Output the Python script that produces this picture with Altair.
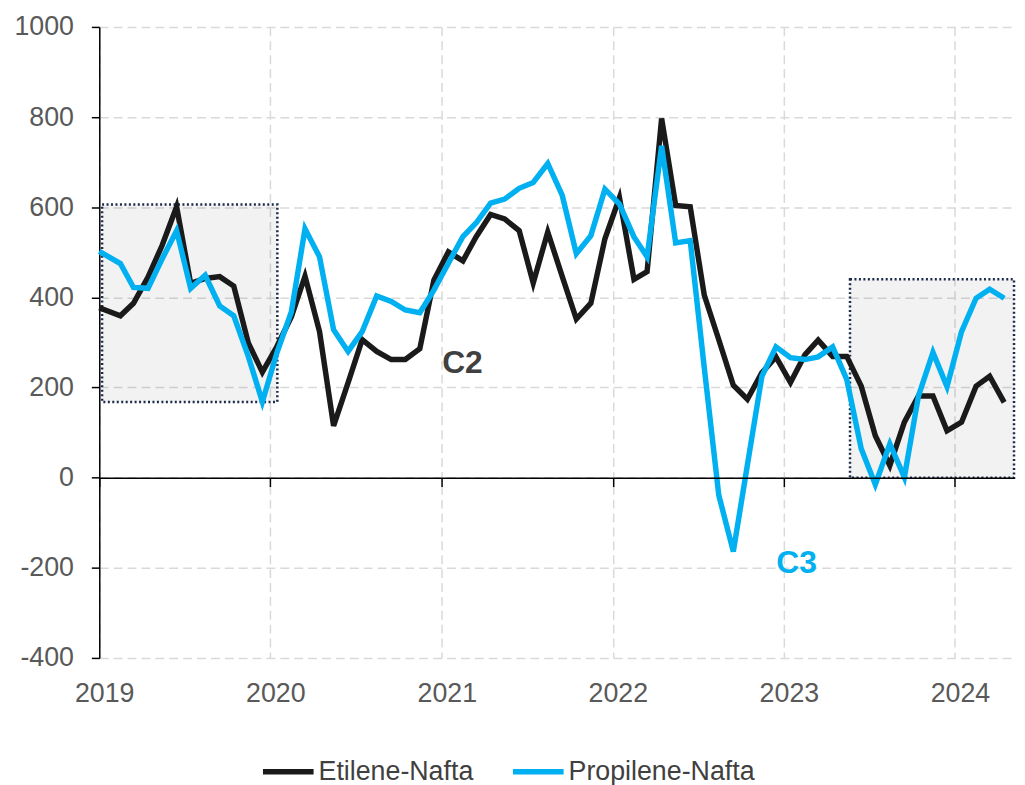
import altair as alt
import pandas as pd

# ---- data -------------------------------------------------------------
months = ["2019-01-01"] + [f"{y}-{m:02d}-15" for y in range(2019, 2025) for m in range(1, 13)][1:64]

etilene = [377, 359, 387, 445, 515, 601, 431, 442, 446, 425, 299, 234,
           291, 357, 447, 324, 115, 211, 306, 280, 262, 262, 286, 438,
           501, 481, 534, 584, 574, 548, 432, 545, 446, 352, 387, 530,
           621, 440, 457, 797, 604, 601, 405, 306, 205, 174, 233, 268,
           211, 273, 305, 269, 269, 203, 93, 27, 123, 181, 181, 104,
           123, 203, 225, 167]

propilene = [502, 475, 422, 420, 485, 548, 420, 449, 381, 359, 269, 168,
             277, 368, 552, 490, 328, 280, 324, 403, 391, 372, 366, 416,
             476, 535, 565, 609, 618, 642, 655, 697, 626, 497, 537, 640,
             607, 534, 490, 736, 521, 526, 244, -39, -164, 28, 225, 290,
             266, 262, 268, 290, 218, 64, -15, 75, 1, 181, 278, 202,
             324, 398, 418, 398]

series_names = ["Etilene-Nafta", "Propilene-Nafta"]
series_colors = ["#1a1a1a", "#00b0f0"]

box_start = ["2019-01-07", "2023-05-22"]
box_end = ["2020-01-16", "2024-05-06"]
box_low = [168, 0]
box_high = [606, 440]

label_text = ["C2", "C3"]
label_dates = ["2021-02-14", "2023-01-28"]
label_values = [254, -190]
label_colors = ["#404040", "#00b0f0"]

year_ticks = [2019, 2020, 2021, 2022, 2023, 2024]

# ---- tables -----------------------------------------------------------
df = pd.concat([
    pd.DataFrame({"date": months, "value": etilene, "serie": series_names[0], "ord": 0}),
    pd.DataFrame({"date": months, "value": propilene, "serie": series_names[1], "ord": 1}),
])
boxes = pd.DataFrame({"start": box_start, "end": box_end, "low": box_low, "high": box_high})
labels = pd.DataFrame({"text": label_text, "date": label_dates, "value": label_values, "color": label_colors})

W, H = 922, 636
FONT = "Liberation Sans"

xscale = alt.Scale(type="utc", domain=[alt.DateTime(year=2019, month=1, date=1, utc=True),
                                       alt.DateTime(year=2024, month=5, date=6, utc=True)])
yscale = alt.Scale(domain=[-400, 1000], nice=False)
tick_vals = [alt.DateTime(year=y, month=1, date=1, utc=True) for y in year_ticks]

y_axis = alt.Axis(values=list(range(-400, 1001, 200)), title=None, grid=True, orient="left",
                  labelExpr="'' + datum.value",
                  gridColor="#d9d9d9", gridDash=[9, 5], gridWidth=1.5,
                  domain=True, domainColor="#000000", domainWidth=1.5,
                  ticks=True, tickColor="#000000", tickSize=8, tickWidth=1.5,
                  labelFont=FONT, labelFontSize=27, labelColor="#595959", labelPadding=18)

x_axis_main = alt.Axis(values=tick_vals, format="%Y", title=None, grid=True, orient="bottom",
                       gridColor="#d9d9d9", gridDash=[9, 5], gridWidth=1.5,
                       domain=False, ticks=False, tickSize=0, labelOffset=5, labelFlush=False,
                       labelFont=FONT, labelFontSize=27, labelColor="#595959", labelPadding=23)

x_axis_zero = alt.Axis(values=tick_vals, title=None, grid=False, labels=False, orient="bottom",
                       domain=True, domainColor="#000000", domainWidth=1.5,
                       ticks=True, tickColor="#000000", tickSize=9, tickWidth=1.5,
                       offset=-(H * 400 / 1400), zindex=1)

rects = alt.Chart(boxes).mark_rect(fill="#000000", fillOpacity=0.052, stroke="#1c2a4a",
                                   strokeWidth=2.5, strokeDash=[2, 2.5]).encode(
    x=alt.X("start:T", scale=xscale, axis=x_axis_zero),
    x2="end:T",
    y=alt.Y("low:Q", scale=yscale, axis=y_axis),
    y2="high:Q",
)

lines = alt.Chart(df).mark_line(strokeWidth=5.5, strokeJoin="miter").encode(
    x=alt.X("date:T", scale=xscale, axis=x_axis_main),
    y=alt.Y("value:Q", scale=yscale, axis=y_axis),
    color=alt.Color("serie:N", scale=alt.Scale(domain=series_names, range=series_colors),
                    legend=alt.Legend(title=None, orient="none", direction="horizontal",
                                      legendX=162, legendY=722, symbolType="stroke",
                                      symbolSize=2600, symbolStrokeWidth=5.5,
                                      labelFont=FONT, labelFontSize=27, labelColor="#404040",
                                      labelLimit=400, labelOffset=2, columnPadding=28)),
    order="ord:O",
)

texts = []
for i in range(len(label_text)):
    texts.append(
        alt.Chart(labels.iloc[[i]]).mark_text(font=FONT, fontSize=32, fontWeight="bold",
                                             color=label_colors[i], align="center",
                                             baseline="middle").encode(
            x=alt.X("date:T", scale=xscale, axis=None),
            y=alt.Y("value:Q", scale=yscale, axis=y_axis),
            text="text:N",
        )
    )

chart = alt.layer(rects, lines, *texts).resolve_axis(x="independent").properties(
    width=W, height=H,
    autosize=alt.AutoSizeParams(type="none"),
    padding={"left": 92, "top": 16, "right": 3, "bottom": 125},
).configure_view(strokeWidth=0)

chart.save("out.html", embed_options={"renderer": "svg", "actions": False})
